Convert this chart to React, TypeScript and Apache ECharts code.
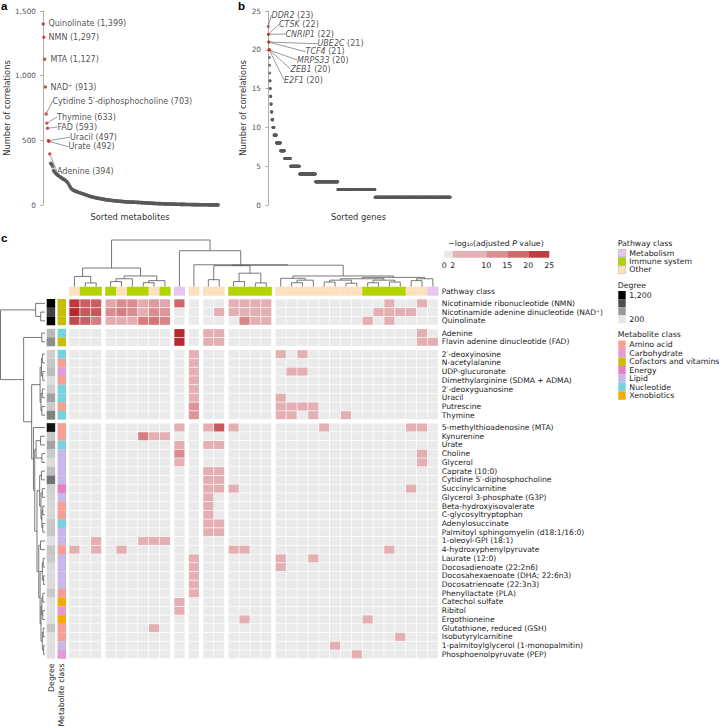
import React, { useEffect, useRef } from "react";
import * as echarts from "echarts";

const FONT = "'DejaVu Sans', Verdana, sans-serif";

// ---------------- Panel a: sorted metabolites ----------------
const topMetaboliteNames = ["Quinolinate", "NMN", "MTA", "NAD⁺", "Cytidine 5′-diphosphocholine", "Thymine", "FAD", "Uracil", "Urate", "Adenine"];
const topMetaboliteCorrelations = [1399, 1297, 1127, 913, 703, 633, 593, 497, 492, 394];
const otherMetaboliteCorrelations = [
  322, 318, 310, 298, 268, 260, 252, 246, 240, 235,
  230, 226, 222, 218, 214, 210, 206, 202, 199, 196,
  192, 188, 182, 176, 168, 158, 148, 138, 130, 124,
  119, 115, 112, 109, 107, 105, 103, 101, 99, 97,
  95, 93, 91, 89, 87, 85, 83, 81, 79, 77,
  75, 73, 71, 69, 67, 66, 64, 63, 61, 60,
  58, 57, 56, 54, 53, 52, 51, 50, 49, 48,
  47, 46, 45, 44, 43, 42, 41, 40, 40, 39,
  38, 37, 37, 36, 35, 35, 34, 33, 33, 32,
  32, 31, 30, 30, 29, 29, 28, 28, 27, 27,
  26, 26, 25, 25, 24, 24, 24, 23, 23, 22,
  23, 23, 22, 22, 22, 21, 21, 21, 20, 20,
  20, 19, 19, 19, 18, 18, 18, 17, 17, 17,
  16, 16, 16, 15, 15, 15, 14, 14, 14, 14,
  13, 13, 13, 12, 12, 12, 12, 11, 11, 11,
  11, 10, 10, 10, 10, 9, 9, 9, 9, 9,
  8, 8, 8, 8, 8, 7, 7, 7, 7, 7,
  7, 6, 6, 6, 6, 6, 6, 5, 5, 5,
  5, 5, 5, 5, 5, 4, 4, 4, 4, 4,
  4, 4, 4, 3, 3, 3, 3, 3, 3, 3,
  3, 3, 3, 2, 2, 2, 2, 2, 2, 2,
  2, 2, 2, 2, 2, 2, 1, 1, 1, 1,
  1, 1, 1, 1, 1, 1, 1, 1, 1, 1,
];

// ---------------- Panel b: sorted genes ----------------
const topGeneNames = ["DDR2", "CTSK", "CNRIP1", "UBE2C", "TCF4", "MRPS33", "ZEB1", "E2F1"];
const topGeneCorrelations = [23, 22, 22, 21, 21, 20, 20, 20];
const geneCorrelationLevels = [19, 18, 17, 16, 15, 14, 13, 12, 11, 10, 9, 8, 7, 6, 5, 4, 3, 2, 1];
const geneCountsAtLevel = [1, 1, 1, 2, 2, 3, 3, 4, 6, 8, 16, 27, 27, 40, 60, 107, 149, 248, 503];

// ---------------- Panel c: heatmap ----------------
const rowNames = [
  "Nicotinamide ribonucleotide (NMN)",
  "Nicotinamide adenine dinucleotide (NAD⁺)",
  "Quinolinate",
  "Adenine",
  "Flavin adenine dinucleotide (FAD)",
  "2′-deoxyinosine",
  "N-acetylalanine",
  "UDP-glucuronate",
  "Dimethylarginine (SDMA + ADMA)",
  "2′-deoxyguanosine",
  "Uracil",
  "Putrescine",
  "Thymine",
  "5-methylthioadenosine (MTA)",
  "Kynurenine",
  "Urate",
  "Choline",
  "Glycerol",
  "Caprate (10:0)",
  "Cytidine 5′-diphosphocholine",
  "Succinylcarnitine",
  "Glycerol 3-phosphate (G3P)",
  "Beta-hydroxyisovalerate",
  "C-glycosyltryptophan",
  "Adenylosuccinate",
  "Palmitoyl sphingomyelin (d18:1/16:0)",
  "1-oleoyl-GPI (18:1)",
  "4-hydroxyphenylpyruvate",
  "Laurate (12:0)",
  "Docosadienoate (22:2n6)",
  "Docosahexaenoate (DHA; 22:6n3)",
  "Docosatrienoate (22:3n3)",
  "Phenyllactate (PLA)",
  "Catechol sulfate",
  "Ribitol",
  "Ergothioneine",
  "Glutathione, reduced (GSH)",
  "Isobutyrylcarnitine",
  "1-palmitoylglycerol (1-monopalmitin)",
  "Phosphoenolpyruvate (PEP)",
];
const rowGroupSizes = [3, 2, 8, 27];
const colGroupSizes = [3, 6, 1, 1, 2, 4, 15];

const rowDegree = [
  1297, 913, 1399, 394, 593, 300, 330, 380, 240, 310, 497, 320, 633,
  1127, 330, 492, 320, 240, 380, 703, 300, 280, 260, 265, 330, 330, 220, 340,
  320, 250, 250, 250, 330, 220, 220, 220, 340, 220, 225, 220,
];
const rowClass = [
  "Cofactors and vitamins", "Cofactors and vitamins", "Cofactors and vitamins", "Nucleotide", "Cofactors and vitamins",
  "Nucleotide", "Amino acid", "Carbohydrate", "Amino acid", "Nucleotide", "Nucleotide", "Amino acid", "Nucleotide",
  "Amino acid", "Amino acid", "Nucleotide", "Lipid", "Lipid", "Lipid", "Lipid", "Energy", "Lipid", "Amino acid",
  "Amino acid", "Nucleotide", "Lipid", "Lipid", "Amino acid", "Lipid", "Lipid", "Lipid", "Lipid", "Amino acid",
  "Xenobiotics", "Carbohydrate", "Xenobiotics", "Amino acid", "Amino acid", "Lipid", "Carbohydrate",
];
const colPathway = [
  "Other", "Immune system", "Immune system",
  "Immune system", "Other", "Immune system", "Immune system", "Other", "Immune system",
  "Metabolism", "Other", "Other", "Other",
  "Immune system", "Immune system", "Immune system", "Immune system",
  "Other", "Other", "Other", "Other", "Other", "Other", "Other", "Other",
  "Immune system", "Immune system", "Immune system", "Immune system", "Other", "Other", "Metabolism",
];

// [row, column, -log10(adjusted P)] for significant cells; all others are 0
const significantCells = [
  [0, 0, 22], [0, 1, 17], [0, 2, 17], [0, 3, 7], [0, 4, 11], [0, 5, 11], [0, 6, 6], [0, 7, 9], [0, 8, 7], [0, 9, 16], [0, 13, 5], [0, 14, 5], [0, 15, 5], [0, 16, 5], [0, 27, 5], [0, 30, 5],
  [1, 0, 24], [1, 1, 18], [1, 2, 18], [1, 3, 11], [1, 4, 13], [1, 5, 11], [1, 6, 5], [1, 7, 11], [1, 8, 10], [1, 12, 5], [1, 13, 5], [1, 14, 5], [1, 15, 5], [1, 16, 5], [1, 26, 5], [1, 27, 5], [1, 28, 5], [1, 29, 5],
  [2, 0, 20], [2, 1, 17], [2, 2, 13], [2, 3, 6], [2, 4, 6], [2, 5, 6], [2, 6, 13], [2, 7, 14], [2, 8, 12], [2, 14, 12], [2, 15, 5], [2, 16, 5], [2, 25, 5], [2, 27, 5],
  [3, 9, 24], [3, 11, 5], [3, 12, 5], [3, 30, 5],
  [4, 9, 24], [4, 11, 5], [4, 12, 5], [4, 30, 5], [4, 31, 5],
  [5, 10, 5], [5, 17, 5], [5, 19, 5],
  [6, 10, 5],
  [7, 10, 5], [7, 18, 5], [7, 19, 5],
  [8, 10, 5], [9, 10, 5],
  [10, 10, 5], [10, 17, 5],
  [11, 10, 10], [11, 17, 5], [11, 18, 5], [11, 19, 5], [11, 20, 5],
  [12, 10, 10], [12, 17, 5], [12, 18, 5], [12, 20, 5], [12, 23, 5],
  [13, 9, 5], [13, 11, 5], [13, 12, 18], [13, 13, 5], [13, 21, 5], [13, 29, 5], [13, 30, 5],
  [14, 6, 13], [14, 7, 5], [14, 8, 5],
  [15, 9, 5], [15, 11, 5], [15, 12, 5],
  [16, 9, 11], [16, 30, 5],
  [17, 9, 5], [17, 30, 5],
  [18, 11, 5], [18, 12, 5],
  [19, 11, 5], [19, 12, 5],
  [20, 11, 5], [20, 12, 5], [20, 13, 5], [20, 29, 5],
  [21, 11, 5], [22, 11, 5], [23, 11, 5],
  [24, 11, 5], [24, 12, 5],
  [25, 11, 5], [25, 12, 5],
  [26, 2, 5], [26, 6, 5], [26, 7, 5], [26, 8, 5],
  [27, 0, 5], [27, 2, 5], [27, 4, 5], [27, 13, 5], [27, 14, 5], [27, 27, 5],
  [28, 10, 5], [28, 17, 5], [28, 20, 5],
  [29, 10, 5], [29, 17, 5],
  [30, 10, 5], [31, 10, 5], [32, 10, 5],
  [33, 9, 5], [34, 9, 5],
  [35, 14, 5], [35, 25, 5],
  [36, 7, 5], [37, 28, 5], [38, 22, 5], [39, 24, 5],
];

// Dendrograms: [left, right, merge height]; leaves are indices
const colTree: any = [
  [
    [0, [1, 2, 0.08], 0.22],
    [[[3, 4, 0.11], 5, 0.17], [[6, 7, 0.085], 8, 0.13], 0.23],
    0.4,
  ],
  [
    9,
    [
      10,
      [
        [[11, 12, 0.15], [[13, 14, 0.11], [15, 16, 0.08], 0.29], 0.45],
        [
          [17, [[18, 19, 0.085], 20, 0.14], 0.18],
          [
            [[[21, 22, 0.1], [23, 24, 0.075], 0.14], [[25, 26, 0.085], [27, 28, 0.1], 0.14], 0.17],
            [[29, 30, 0.13], 31, 0.17],
            0.2,
          ],
          0.23,
        ],
        0.46,
      ],
      0.47,
    ],
    0.77,
  ],
  1.0,
];
const rowTree: any = [
  [0, [1, 2, 0.096], 0.21],
  [
    [3, 4, 0.073],
    [
      [[[5, 6, 0.06], [7, 8, 0.05], 0.08], [[9, 10, 0.06], [11, 12, 0.07], 0.09], 0.11],
      [
        13,
        [
          [[14, 15, 0.1], [16, 17, 0.07], 0.2],
          [
            [[18, 19, 0.08], [[20, 21, 0.06], [[22, 23, 0.05], [24, 25, 0.05], 0.07], 0.09], 0.12],
            [[26, 27, 0.1], [[[28, 29, 0.04], [30, 31, 0.03], 0.06], [[[32, 33, 0.05], [34, 35, 0.05], 0.07], [[36, 37, 0.04], [38, 39, 0.03], 0.06], 0.09], 0.11], 0.14],
            0.18,
          ],
          0.23,
        ],
        0.26,
      ],
      0.3,
    ],
    0.48,
  ],
  1.0,
];

// Legend contents
const pValueBreaks = [0, 2, 10, 15, 20, 25];
const pValueColors = ["#E8E8E8", "#E5B2B5", "#DA8F93", "#CF6B6F", "#C13D41"];
const pathwayClasses = ["Metabolism", "Immune system", "Other"];
const degreeLegendValues = [1200, 867, 533, 200];
const metaboliteClasses = ["Amino acid", "Carbohydrate", "Cofactors and vitamins", "Energy", "Lipid", "Nucleotide", "Xenobiotics"];

// ---------------- styling ----------------
const pathwayColors: Record<string, string> = { Metabolism: "#E7C6EF", "Immune system": "#B4D400", Other: "#FBE1BE" };
const classColors: Record<string, string> = {
  "Amino acid": "#F99E94", Carbohydrate: "#E49AD8", "Cofactors and vitamins": "#C6BE0A", Energy: "#E87FC0",
  Lipid: "#C7B7EA", Nucleotide: "#76D3DD", Xenobiotics: "#F5AA0A",
};
const cellStops: [number, string][] = [[2, "#E7B9BC"], [6, "#E3ACAF"], [10, "#DC9599"], [13, "#D57D81"], [17, "#CB5E62"], [21, "#C04347"], [25, "#B32225"]];

function hex(c: string) { return [1, 3, 5].map((i) => parseInt(c.slice(i, i + 2), 16)); }
function mix(a: string, b: string, t: number) {
  const A = hex(a), B = hex(b);
  return "rgb(" + A.map((v, i) => Math.round(v + (B[i] - v) * t)).join(",") + ")";
}
function cellColor(v: number) {
  if (v < 2) return "#EAEAEA";
  for (let i = 0; i < cellStops.length - 1; i++) {
    const [v0, c0] = cellStops[i], [v1, c1] = cellStops[i + 1];
    if (v <= v1) return mix(c0, c1, (v - v0) / (v1 - v0));
  }
  return cellStops[cellStops.length - 1][1];
}
function degreeColor(d: number) {
  const f = Math.min(1, Math.max(0, (d - 200) / 1000));
  const g = Math.round(230 * (1 - f));
  return `rgb(${g},${g},${g})`;
}
function groupPositions(sizes: number[], gap: number) {
  const out: number[] = [];
  sizes.forEach((n, g) => { for (let k = 0; k < n; k++) out.push(out.length + g * gap); });
  return out;
}
function layoutTree(t: any, leafPos: number[], out: number[][]): [number, number] {
  if (typeof t === "number") return [leafPos[t] + 0.5, 0];
  const [pa, ha] = layoutTree(t[0], leafPos, out);
  const [pb, hb] = layoutTree(t[1], leafPos, out);
  out.push([pa, ha, pb, hb, t[2]]);
  return [(pa + pb) / 2, t[2]];
}

const metaboliteLabelAnchors = [[48.5, 23.5], [48.5, 37.3], [50.5, 59.5], [50.5, 87], [52.5, 101], [57, 117], [57.5, 127], [70, 137.2], [68.5, 146.8], [57, 171.5]];
const metaboliteLabelHasLine = [false, false, false, false, true, true, true, true, true, true];
const geneLabelAnchors = [[271.5, 15], [279, 24.3], [285.5, 34], [317.5, 43.7], [305.5, 51.7], [297, 60], [290.5, 69], [284, 80]];

function buildOption() {
  const COL_GAP = 0.33, ROW_GAP = 0.41;
  const colPos = groupPositions(colGroupSizes, COL_GAP);
  const rowPos = groupPositions(rowGroupSizes, ROW_GAP);
  const colMax = colPos.length + (colGroupSizes.length - 1) * COL_GAP;
  const rowMax = rowPos.length + (rowGroupSizes.length - 1) * ROW_GAP;

  const cellMap = new Map<string, number>();
  significantCells.forEach(([r, c, v]) => cellMap.set(r + "_" + c, v));
  const heatData: number[][] = [];
  rowPos.forEach((rp, r) => colPos.forEach((cp, c) => heatData.push([cp, rp, cellMap.get(r + "_" + c) || 0])));

  const colSegs: number[][] = [];
  layoutTree(colTree, colPos, colSegs);
  const rowSegs: number[][] = [];
  layoutTree(rowTree, rowPos, rowSegs);

  const aGrey = otherMetaboliteCorrelations.map((v, i) => [i + topMetaboliteCorrelations.length, v]);
  const aRed = topMetaboliteCorrelations.map((v, i) => ({
    value: [i, v], name: topMetaboliteNames[i], labelLine: { show: metaboliteLabelHasLine[i] },
  }));
  const bRed = topGeneCorrelations.map((v, i) => ({ value: [i, v], name: topGeneNames[i] }));
  const bGrey: number[][] = [];
  let rank = topGeneCorrelations.length;
  geneCorrelationLevels.forEach((lvl, k) => { for (let j = 0; j < geneCountsAtLevel[k]; j++) bGrey.push([rank++, lvl]); });

  const hidden = (gridIndex: number, min: number, max: number, inverse = false) => ({ gridIndex, type: "value", min, max, inverse, show: false });
  const nameStyle = { fontSize: 8.3, color: "#333", fontFamily: FONT };
  const yAxisVisible = (gridIndex: number, max: number, interval: number, nameGap: number) => ({
    gridIndex, type: "value", min: 0, max, interval,
    axisLine: { show: true, lineStyle: { color: "#9a9a9a", width: 0.8 } },
    axisTick: { show: true, length: 3, lineStyle: { color: "#9a9a9a", width: 0.8 } },
    axisLabel: { fontSize: 7.3, color: "#555", margin: 5, fontFamily: FONT, formatter: (v: number) => v.toLocaleString("en-US") },
    splitLine: { show: false },
    name: "Number of correlations", nameLocation: "middle", nameGap, nameTextStyle: nameStyle,
  });
  const xAxisPanel = (gridIndex: number, min: number, max: number, name: string) => ({
    gridIndex, type: "value", min, max,
    axisLine: { show: false }, axisTick: { show: false }, axisLabel: { show: false }, splitLine: { show: false },
    name, nameLocation: "middle", nameGap: 8, nameTextStyle: nameStyle,
  });

  const labelBase = { show: true, fontSize: 8, fontFamily: FONT, color: "#222" };
  const leader = { show: true, lineStyle: { color: "#555", width: 0.6 } };

  const dendroStyle = { stroke: "#555", lineWidth: 0.8, fill: null };
  const LEG = 7.8;

  const txt = (x: number, y: number, text: string, extra: any = {}, styleExtra: any = {}) => ({
    type: "text", x, y, silent: true, ...extra,
    style: { text, fill: "#222", fontSize: LEG, fontFamily: FONT, align: "left", verticalAlign: "middle", textAlign: "left", textVerticalAlign: "middle", ...styleExtra },
  });
  const rectG = (x: number, y: number, w: number, h: number, fill: string, stroke?: string) => ({
    type: "rect", silent: true, shape: { x, y, width: w, height: h }, style: { fill, stroke: stroke || null, lineWidth: stroke ? 0.5 : 0 },
  });
  const letter = { fontSize: 11.5, fontWeight: "bold", fontFamily: "'Liberation Sans', Arial, sans-serif", fill: "#000" };

  const graphics: any[] = [
    txt(1, 6, "a", {}, letter),
    txt(238, 6, "b", {}, letter),
    txt(1, 238, "c", {}, letter),
    txt(441.7, 291.3, "Pathway class", {}, { fontSize: 7.6 }),
    txt(448.3, 243, "−log₁₀(adjusted {i|P} value)", {}, { rich: { i: { fontStyle: "italic", fontSize: LEG, fontFamily: FONT, fill: "#222" } } }),
    txt(617.7, 243.3, "Pathway class"),
    txt(617.7, 285.3, "Degree"),
    txt(617.7, 334.3, "Metabolite class"),
    txt(51, 663.5, "Degree", { rotation: Math.PI / 2 }, { align: "right", textAlign: "right" }),
    txt(61.8, 663.5, "Metabolite class", { rotation: Math.PI / 2 }, { align: "right", textAlign: "right" }),
  ];
  pathwayClasses.forEach((p, i) => {
    graphics.push(rectG(618.3, 249.3 + i * 8.3, 7.4, 7.7, pathwayColors[p], "rgba(0,0,0,0.25)"));
    graphics.push(txt(629.3, 253.2 + i * 8.3, p));
  });
  degreeLegendValues.forEach((d, i) => graphics.push(rectG(618.3, 291 + i * 8.1, 7.4, 8.1, degreeColor(d))));
  graphics.push(txt(629.3, 295, degreeLegendValues[0].toLocaleString("en-US")));
  graphics.push(txt(629.3, 319.5, degreeLegendValues[degreeLegendValues.length - 1].toLocaleString("en-US")));
  metaboliteClasses.forEach((m, i) => {
    graphics.push(rectG(618.3, 340.6 + i * 8.45, 7.4, 8.45, classColors[m]));
    graphics.push(txt(629.3, 344.8 + i * 8.45, m));
  });

  return {
    animation: false,
    backgroundColor: "#fff",
    textStyle: { fontFamily: FONT },
    grid: [
      { left: 41, top: 11, width: 178, height: 194, outerBoundsMode: "none" },
      { left: 266, top: 11, width: 185, height: 194, outerBoundsMode: "none" },
      { left: 69, top: 240, width: 369.3, height: 46.7, outerBoundsMode: "none" },
      { left: 69, top: 286.7, width: 369.3, height: 9, outerBoundsMode: "none" },
      { left: 0.5, top: 299, width: 44.5, height: 359.7, outerBoundsMode: "none" },
      { left: 46.7, top: 299, width: 19.3, height: 359.7, outerBoundsMode: "none" },
      { left: 69, top: 299, width: 369.3, height: 359.7, outerBoundsMode: "none" },
      { left: 444.3, top: 251, width: 105, height: 6.7, outerBoundsMode: "none" },
    ],
    xAxis: [
      xAxisPanel(0, -3, 240, "Sorted metabolites"),
      xAxisPanel(1, -15, 1220, "Sorted genes"),
      hidden(2, 0, colMax),
      hidden(3, 0, colMax),
      hidden(4, 0, 1, true),
      hidden(5, 0, 2.28),
      hidden(6, 0, colMax),
      {
        gridIndex: 7, type: "value", min: 0, max: 25,
        axisLine: { show: false }, axisTick: { show: false }, splitLine: { show: false },
        axisLabel: { show: true, customValues: pValueBreaks, fontSize: 7.8, color: "#222", margin: 4, fontFamily: FONT, hideOverlap: false },
      },
    ],
    yAxis: [
      yAxisVisible(0, 1500, 500, 29),
      yAxisVisible(1, 25, 5, 19),
      hidden(2, 0, 1),
      hidden(3, 0, 1),
      hidden(4, 0, rowMax, true),
      hidden(5, 0, rowMax, true),
      hidden(6, 0, rowMax, true),
      hidden(7, 0, 1),
    ],
    graphic: graphics,
    series: [
      { type: "scatter", xAxisIndex: 0, yAxisIndex: 0, data: aGrey, symbolSize: 3.6, itemStyle: { color: "#595959" }, silent: true },
      {
        type: "scatter", xAxisIndex: 0, yAxisIndex: 0, data: aRed, symbolSize: 3.4, itemStyle: { color: "#C1272D" }, z: 3,
        label: { ...labelBase, formatter: (p: any) => `${p.name} (${p.value[1].toLocaleString("en-US")})` },
        labelLine: leader,
        labelLayout: (p: any) => ({ x: metaboliteLabelAnchors[p.dataIndex][0], y: metaboliteLabelAnchors[p.dataIndex][1], align: "left", verticalAlign: "middle" }),
      },
      { type: "scatter", xAxisIndex: 1, yAxisIndex: 1, data: bGrey, symbolSize: 3, itemStyle: { color: "#5a5a5a" }, silent: true },
      {
        type: "scatter", xAxisIndex: 1, yAxisIndex: 1, data: bRed, symbolSize: 3, itemStyle: { color: "#C1272D" }, z: 3,
        label: {
          ...labelBase, fontSize: 8, formatter: (p: any) => `{i|${p.name}} (${p.value[1]})`,
          rich: { i: { fontStyle: "italic", fontSize: 8, fontFamily: FONT, color: "#222" } },
        },
        labelLine: leader,
        labelLayout: (p: any) => ({ x: geneLabelAnchors[p.dataIndex][0], y: geneLabelAnchors[p.dataIndex][1], align: "left", verticalAlign: "middle" }),
      },
      {
        type: "custom", xAxisIndex: 2, yAxisIndex: 2, data: colSegs, silent: true,
        renderItem: (_: any, api: any) => {
          const pa = api.value(0), ha = api.value(1), pb = api.value(2), hb = api.value(3), h = api.value(4);
          return { type: "polyline", shape: { points: [api.coord([pa, ha]), api.coord([pa, h]), api.coord([pb, h]), api.coord([pb, hb])] }, style: dendroStyle };
        },
      },
      {
        type: "custom", xAxisIndex: 3, yAxisIndex: 3, data: colPos.map((p, c) => [p, 0, c]), silent: true,
        renderItem: (_: any, api: any) => {
          const a = api.coord([api.value(0), 1]), b = api.coord([api.value(0) + 1, 0]);
          return { type: "rect", shape: { x: a[0], y: a[1], width: b[0] - a[0] + 0.2, height: b[1] - a[1] }, style: { fill: pathwayColors[colPathway[api.value(2)]] } };
        },
      },
      {
        type: "custom", xAxisIndex: 4, yAxisIndex: 4, data: rowSegs.map((s) => [s[1], s[0], s[3], s[2], s[4]]), silent: true,
        renderItem: (_: any, api: any) => {
          const ha = api.value(0), pa = api.value(1), hb = api.value(2), pb = api.value(3), h = api.value(4);
          return { type: "polyline", shape: { points: [api.coord([ha, pa]), api.coord([h, pa]), api.coord([h, pb]), api.coord([hb, pb])] }, style: dendroStyle };
        },
      },
      {
        type: "custom", xAxisIndex: 5, yAxisIndex: 5, data: rowPos.map((p, r) => [0, p, rowDegree[r]]), silent: true,
        renderItem: (_: any, api: any) => {
          const a = api.coord([api.value(0), api.value(1)]), b = api.coord([api.value(0) + 1, api.value(1) + 1]);
          return { type: "rect", shape: { x: a[0], y: a[1], width: b[0] - a[0], height: b[1] - a[1] + 0.1 }, style: { fill: degreeColor(api.value(2)) } };
        },
      },
      {
        type: "custom", xAxisIndex: 5, yAxisIndex: 5, data: rowPos.map((p, r) => [1.28, p, r]), silent: true,
        renderItem: (_: any, api: any) => {
          const a = api.coord([api.value(0), api.value(1)]), b = api.coord([api.value(0) + 1, api.value(1) + 1]);
          return { type: "rect", shape: { x: a[0], y: a[1], width: b[0] - a[0], height: b[1] - a[1] + 0.1 }, style: { fill: classColors[rowClass[api.value(2)]] } };
        },
      },
      {
        type: "custom", xAxisIndex: 6, yAxisIndex: 6, data: heatData, silent: true,
        renderItem: (_: any, api: any) => {
          const x = api.value(0), y = api.value(1);
          const a = api.coord([x, y]), b = api.coord([x + 1, y + 1]);
          return { type: "rect", shape: { x: a[0] + 0.35, y: a[1] + 0.35, width: b[0] - a[0] - 0.7, height: b[1] - a[1] - 0.7 }, style: { fill: cellColor(api.value(2)) } };
        },
      },
      {
        type: "custom", xAxisIndex: 6, yAxisIndex: 6, data: rowPos.map((p, r) => [colMax, p + 0.5, r]), silent: true,
        renderItem: (_: any, api: any) => {
          const a = api.coord([api.value(0), api.value(1)]);
          return {
            type: "text", x: a[0] + 3.4, y: a[1],
            style: { text: rowNames[api.value(2)], fill: "#222", fontSize: 7.6, fontFamily: FONT, align: "left", verticalAlign: "middle" },
          };
        },
      },
      {
        type: "custom", xAxisIndex: 7, yAxisIndex: 7, silent: true,
        data: pValueColors.map((_, i) => [pValueBreaks[i], 0, pValueBreaks[i + 1], i]),
        renderItem: (_: any, api: any) => {
          const a = api.coord([api.value(0), 1]), b = api.coord([api.value(2), 0]);
          return { type: "rect", shape: { x: a[0], y: a[1], width: b[0] - a[0], height: b[1] - a[1] }, style: { fill: pValueColors[api.value(3)] } };
        },
      },
    ],
  };
}

export default function App() {
  const ref = useRef<HTMLDivElement>(null);
  useEffect(() => {
    const chart = echarts.init(ref.current!, null, { renderer: "svg" });
    chart.setOption(buildOption() as any);
    return () => chart.dispose();
  }, []);
  return <div ref={ref} style={{ position: "fixed", left: 0, top: 0, width: 719, height: 727, background: "#fff" }} />;
}
